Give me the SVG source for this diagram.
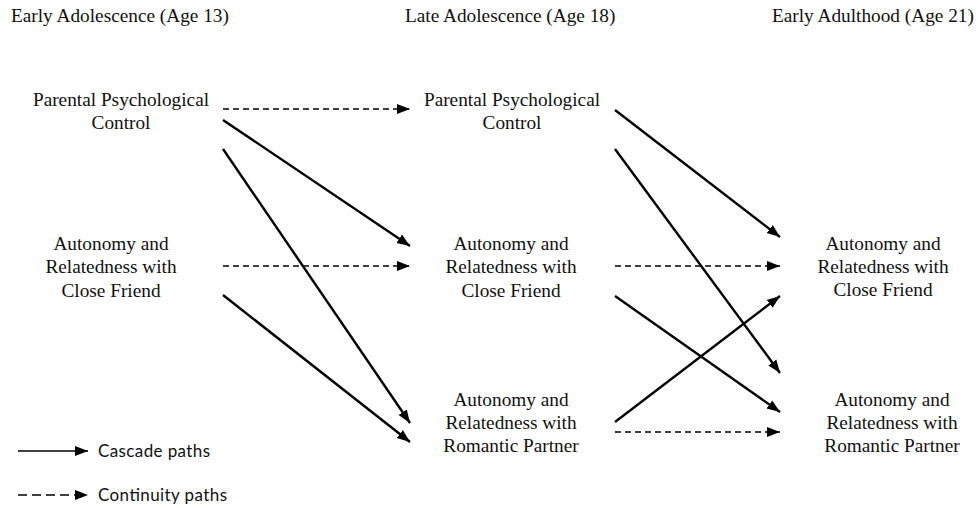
<svg xmlns="http://www.w3.org/2000/svg" width="978" height="508" viewBox="0 0 978 508">
<defs>
<marker id="ah" markerUnits="userSpaceOnUse" markerWidth="14" markerHeight="12" viewBox="0 0 14 12" refX="13" refY="6" orient="auto">
<path d="M0,1 L13,6 L0,11 Z" fill="#000"/>
</marker>
</defs>
<style>
.t{font-family:'Liberation Serif','Times New Roman',serif;font-size:19.3px;fill:#111}
.n{text-anchor:middle}
.lg{font-family:Lato,'Liberation Sans',sans-serif;font-size:17px;fill:#111}
.s{stroke:#000;stroke-width:2.4;fill:none;marker-end:url(#ah)}
.d{stroke:#000;stroke-width:1.6;fill:none;stroke-dasharray:6 4;marker-end:url(#ah)}
</style>
<rect width="978" height="508" fill="#fff"/>
<g id="headers">
<text class="t" x="11" y="22">Early Adolescence (Age 13)</text>
<text class="t" x="405" y="22">Late Adolescence (Age 18)</text>
<text class="t" x="772" y="22">Early Adulthood (Age 21)</text>
</g>
<g id="ppc13"><text class="t n" x="121" y="106">Parental Psychological</text><text class="t n" x="121" y="129">Control</text></g>
<g id="arcf13"><text class="t n" x="111" y="250">Autonomy and</text><text class="t n" x="111" y="273">Relatedness with</text><text class="t n" x="111" y="297">Close Friend</text></g>
<g id="ppc18"><text class="t n" x="512" y="106">Parental Psychological</text><text class="t n" x="512" y="129">Control</text></g>
<g id="arcf18"><text class="t n" x="511" y="250">Autonomy and</text><text class="t n" x="511" y="273">Relatedness with</text><text class="t n" x="511" y="297">Close Friend</text></g>
<g id="arrp18"><text class="t n" x="511" y="406">Autonomy and</text><text class="t n" x="511" y="429">Relatedness with</text><text class="t n" x="511" y="452">Romantic Partner</text></g>
<g id="arcf21"><text class="t n" x="883" y="250">Autonomy and</text><text class="t n" x="883" y="273">Relatedness with</text><text class="t n" x="883" y="296">Close Friend</text></g>
<g id="arrp21"><text class="t n" x="892" y="406">Autonomy and</text><text class="t n" x="892" y="429">Relatedness with</text><text class="t n" x="892" y="452">Romantic Partner</text></g>
<g id="connectors">
<line class="d" x1="223" y1="109" x2="410" y2="109"/>
<line class="s" x1="223" y1="120" x2="410" y2="246"/>
<line class="s" x1="223" y1="149" x2="410" y2="423"/>
<line class="d" x1="223" y1="266" x2="410" y2="266"/>
<line class="s" x1="223" y1="295" x2="410" y2="442"/>
<line class="s" x1="615" y1="110" x2="780" y2="237"/>
<line class="s" x1="615" y1="149" x2="780" y2="373"/>
<line class="d" x1="615" y1="266" x2="780" y2="266"/>
<line class="s" x1="615" y1="296" x2="780" y2="412"/>
<line class="s" x1="615" y1="422" x2="780" y2="296"/>
<line class="d" x1="615" y1="432" x2="780" y2="432"/>
</g>
<g id="legend">
<line class="s" x1="18" y1="451" x2="88" y2="451" style="stroke-width:1.6"/>
<text class="lg" x="98" y="457" textLength="112">Cascade paths</text>
<line class="d" x1="18" y1="495" x2="88" y2="495" style="stroke-dasharray:9 5"/>
<text class="lg" x="98" y="501" textLength="129">Continuity paths</text>
</g>
</svg>
